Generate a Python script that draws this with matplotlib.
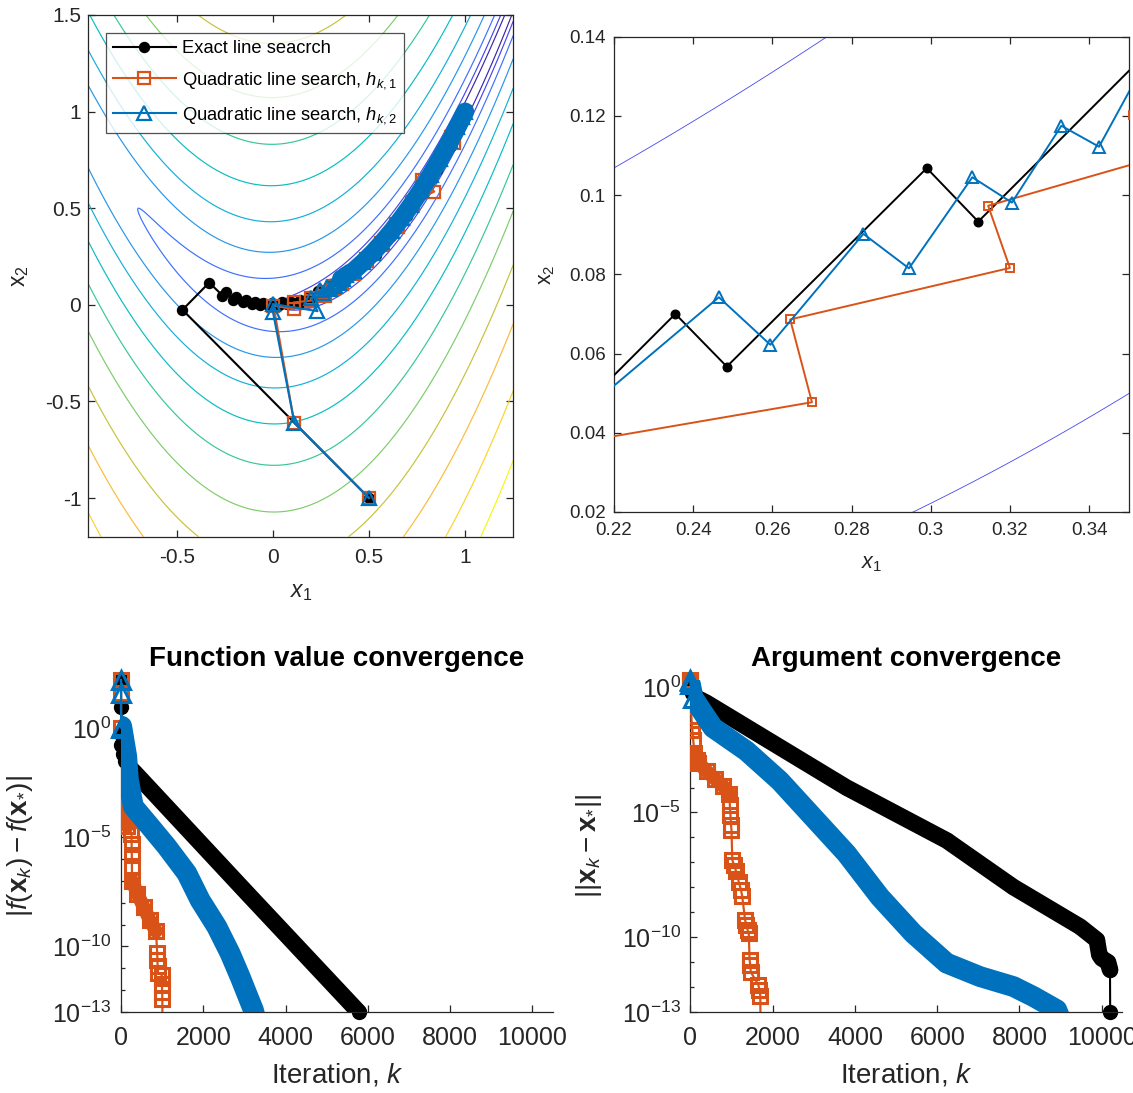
import numpy as np
import matplotlib
matplotlib.use("Agg")
import matplotlib.pyplot as plt
from matplotlib.ticker import FixedLocator, FixedFormatter, NullFormatter

plt.rcParams['font.family'] = ['Liberation Sans', 'DejaVu Sans']
plt.rcParams['mathtext.fontset'] = 'custom'
plt.rcParams['mathtext.rm'] = 'Liberation Sans'
plt.rcParams['mathtext.it'] = 'Liberation Sans:italic'
plt.rcParams['mathtext.bf'] = 'Liberation Sans:bold'
plt.rcParams['axes.unicode_minus'] = False

# ---------------- data ----------------
# contour levels of the objective (Rosenbrock) shown in the top panels
contour_levels = [0.25, 0.95, 2.9, 8.4, 19.5, 39, 70, 116, 184, 276, 403, 561]

# iterate paths (x1, x2)
exact_x1 = [0.5, -0.47, -0.331, -0.262, -0.245, -0.205, -0.19, -0.155, -0.14, -0.108, -0.095,
            -0.065, -0.052, -0.02, -0.005, 0.03, 0.045, 0.08, 0.095, 0.125, 0.14, 0.1525, 0.1875,
            0.2005, 0.2355, 0.2485, 0.299, 0.312, 0.367, 0.381, 0.44, 0.455, 0.52, 0.535, 0.60,
            0.615, 0.68, 0.695, 0.76, 0.775, 0.84, 0.855, 0.91, 0.925, 0.97, 0.985, 1.0]
exact_x2 = [-1.0, -0.026, 0.115, 0.048, 0.065, 0.027, 0.042, 0.012, 0.027, 0.002, 0.014,
            -0.003, 0.009, -0.004, 0.011, -0.002, 0.013, 0.003, 0.017, 0.01, 0.025, 0.013, 0.048,
            0.035, 0.070, 0.0567, 0.1068, 0.0933, 0.1483, 0.134, 0.20, 0.19, 0.275, 0.26, 0.37,
            0.355, 0.475, 0.46, 0.59, 0.575, 0.715, 0.70, 0.835, 0.82, 0.95, 0.955, 1.0]

quad1_x1 = [0.5, 0.112, 0.003, 0.112, 0.108, 0.200, 0.196, 0.270, 0.2645, 0.320, 0.3145, 0.357,
            0.3512, 0.42, 0.412, 0.49, 0.483, 0.57, 0.562, 0.65, 0.642, 0.73, 0.722, 0.839,
            0.778, 0.943, 0.926, 1.0]
quad1_x2 = [-1.0, -0.612, -0.004, -0.024, 0.012, 0.022, 0.035, 0.0477, 0.0686, 0.0816, 0.0973,
            0.1095, 0.1203, 0.158, 0.172, 0.225, 0.238, 0.31, 0.322, 0.405, 0.418, 0.515, 0.53,
            0.586, 0.647, 0.836, 0.871, 1.0]

quad2_x1 = [0.5, 0.112, 0.0, 0.0, 0.232, 0.20, 0.2465, 0.2595, 0.283, 0.2945, 0.3105, 0.3205,
            0.333, 0.3425, 0.3555, 0.365, 0.38, 0.42, 0.47, 0.52, 0.57, 0.62, 0.67, 0.72, 0.77,
            0.82, 0.87, 0.92, 0.96, 0.985, 1.0]
quad2_x2 = [-1.0, -0.612, -0.035, 0.004, -0.033, 0.035, 0.0742, 0.0622, 0.0902, 0.0815, 0.1045,
            0.0981, 0.1175, 0.1122, 0.136, 0.131, 0.152, 0.176, 0.221, 0.27, 0.325, 0.384, 0.449,
            0.518, 0.593, 0.672, 0.757, 0.846, 0.922, 0.97, 1.0]

# function-value convergence: iteration k and log10 |f(x_k) - f(x*)|
fv_exact_k = [0, 1, 2, 10, 40, 100, 200, 340, 3058, 5775]
fv_exact_log = [2.19, 0.93, -0.3, -0.8, -1.2, -1.5, -1.8, -2.06, -7.55, -13.0]
fv_q1_k = [0, 1, 2, 5, 10, 15, 25, 60, 120, 150, 255, 258, 262, 265, 270, 400, 550, 700, 850,
           880, 885, 890, 900, 990, 995, 1000, 1005, 1010]
fv_q1_log = [2.19, 1.6, 0.0, -0.5, -1.2, -2.4, -3.1, -4.0, -4.2, -4.5, -4.85, -5.3, -5.8, -6.3,
             -7.0, -7.6, -8.2, -8.8, -9.3, -10.3, -10.6, -10.9, -11.2, -11.3, -11.7, -12.1,
             -12.4, -16.0]
fv_q2_k = [0, 1, 2, 16, 138, 179, 300, 706, 1111, 1598, 1922, 2328, 2652, 2895, 3058, 3220, 3300]
fv_q2_log = [2.19, 1.6, 0.0, 0.07, -1.3, -2.37, -3.6, -4.51, -5.43, -6.65, -7.88, -9.1, -10.32,
             -11.39, -12.16, -12.92, -13.5]

# argument convergence: iteration k and log10 ||x_k - x*||
ar_exact_k = [0, 1, 2, 30, 150, 389, 3796, 6229, 7852, 9474, 9880, 9940, 10000, 10150, 10200, 10204]
ar_exact_log = [0.314, 0.254, 0.2, -0.2, -0.4, -0.6, -4.0, -6.12, -7.99, -9.58, -10.11, -10.7,
                -10.85, -11.0, -11.3, -13.0]
ar_q1_k = [0, 1, 2, 10, 30, 50, 70, 100, 150, 190, 400, 600, 800, 950, 960, 975, 990, 1000,
           1020, 1060, 1110, 1180, 1230, 1260, 1330, 1360, 1390, 1420, 1440, 1455, 1470, 1650,
           1680, 1700, 1720]
ar_q1_log = [0.314, 0.265, 0.15, -0.3, -1.3, -1.7, -2.1, -2.6, -2.9, -3.0, -3.35, -3.65, -3.95,
             -4.25, -4.7, -5.1, -5.5, -5.7, -6.9, -7.1, -7.35, -7.8, -8.1, -8.35, -9.3, -9.5,
             -9.7, -9.85, -10.9, -11.1, -11.4, -11.9, -12.1, -12.35, -16.0]
ar_q2_k = [0, 1, 2, 66, 552, 1363, 2174, 2985, 3796, 4607, 5418, 6229, 7040, 7852, 8338, 8906, 9000]
ar_q2_log = [0.314, 0.265, 0.15, -0.4, -1.6, -2.53, -3.73, -5.19, -6.65, -8.39, -9.85, -11.04,
             -11.58, -11.98, -12.38, -12.91, -13.3]

# ---------------- style ----------------
C_BLACK = 'black'
C_ORANGE = '#D95319'
C_BLUE = '#0072BD'
AX_COLOR = '#262626'

# parula-like colours, one per contour level (low -> high)
level_colors = [(0.24, 0.15, 0.66), (0.28, 0.28, 0.92), (0.24, 0.44, 1.00), (0.15, 0.59, 0.92),
                (0.07, 0.69, 0.84), (0.03, 0.74, 0.76), (0.22, 0.78, 0.59), (0.49, 0.80, 0.42),
                (0.78, 0.76, 0.23), (0.99, 0.73, 0.24), (0.98, 0.83, 0.17), (0.97, 0.97, 0.08)]


def rosen(X, Y):
    return (1 - X) ** 2 + 100 * (Y - X ** 2) ** 2


def style_axes(ax, fs, xpad, ypad, box=True):
    for s in ax.spines.values():
        s.set_color(AX_COLOR)
        s.set_linewidth(0.9)
    if not box:
        ax.spines['top'].set_visible(False)
        ax.spines['right'].set_visible(False)
    ax.tick_params(which='both', direction='in', colors=AX_COLOR, labelsize=fs,
                   top=box, right=box, width=0.9)
    ax.tick_params(which='major', length=5)
    ax.tick_params(axis='x', which='major', pad=xpad)
    ax.tick_params(axis='y', which='major', pad=ypad)


fig = plt.figure(figsize=(11.33, 10.93), dpi=100)

# ---------------- top-left: contours with paths ----------------
ax1 = fig.add_axes([0.0779, 0.509, 0.3751, 0.4773])
xg = np.linspace(-0.96, 1.25, 600)
yg = np.linspace(-1.2, 1.5, 600)
XG, YG = np.meshgrid(xg, yg)
ax1.contour(XG, YG, rosen(XG, YG), levels=contour_levels, colors=level_colors, linewidths=0.85)

ax1.plot(exact_x1, exact_x2, '-o', color=C_BLACK, lw=1.5, ms=7.2, mfc=C_BLACK, mec=C_BLACK,
         label='Exact line seacrch', zorder=3)
ax1.plot(quad1_x1, quad1_x2, '-s', color=C_ORANGE, lw=1.5, ms=8.4, mfc='none', mew=1.6,
         label=r'Quadratic line search, $h_{k,1}$', zorder=4)
ax1.plot(quad2_x1, quad2_x2, '-^', color=C_BLUE, lw=1.5, ms=9.6, mfc='none', mew=1.6,
         label=r'Quadratic line search, $h_{k,2}$', zorder=5)
band_start = 14
ax1.plot(quad2_x1[band_start:], quad2_x2[band_start:], '-', color=C_BLUE, lw=13,
         solid_capstyle='round', solid_joinstyle='round', zorder=5)
ax1.set_xlim(-0.96, 1.25)
ax1.set_ylim(-1.2, 1.5)
ax1.set_xticks([-0.5, 0, 0.5, 1])
ax1.set_xticklabels(['-0.5', '0', '0.5', '1'])
ax1.set_yticks([-1, -0.5, 0, 0.5, 1, 1.5])
ax1.set_yticklabels(['-1', '-0.5', '0', '0.5', '1', '1.5'])
style_axes(ax1, 15, 8.5, 5)
ax1.set_xlabel(r'$x_1$', fontsize=16.5, color=AX_COLOR)
ax1.set_ylabel(r'x$_2$', fontsize=16.5, color=AX_COLOR)
ax1.xaxis.set_label_coords(0.5, -0.083)
ax1.yaxis.set_label_coords(-0.135, 0.5)
leg = ax1.legend(loc='upper left', bbox_to_anchor=(0.0416, 0.9655), borderaxespad=0,
                 fontsize=13.2, frameon=True, fancybox=False, edgecolor=AX_COLOR,
                 handlelength=3.4, handletextpad=0.35, labelspacing=0.72, borderpad=0.4)
leg.get_frame().set_linewidth(0.9)
leg.set_zorder(10)

# ---------------- top-right: zoomed view ----------------
ax2 = fig.add_axes([0.5419, 0.5316, 0.4543, 0.4349])
xz = np.linspace(0.2, 0.37, 500)
yz = np.linspace(0.0, 0.16, 500)
XZ, YZ = np.meshgrid(xz, yz)
ax2.contour(XZ, YZ, rosen(XZ, YZ), levels=contour_levels, colors=level_colors, linewidths=0.6)
ax2.plot(exact_x1, exact_x2, '-o', color=C_BLACK, lw=1.4, ms=6.2, mfc=C_BLACK, mec=C_BLACK, zorder=3)
ax2.plot(quad1_x1, quad1_x2, '-s', color=C_ORANGE, lw=1.4, ms=6.0, mfc='none', mew=1.4, zorder=4)
ax2.plot(quad2_x1, quad2_x2, '-^', color=C_BLUE, lw=1.4, ms=8.5, mfc='none', mew=1.4, zorder=5)
ax2.set_xlim(0.22, 0.35)
ax2.set_ylim(0.02, 0.14)
ax2.set_xticks([0.22, 0.24, 0.26, 0.28, 0.30, 0.32, 0.34])
ax2.set_xticklabels(['0.22', '0.24', '0.26', '0.28', '0.3', '0.32', '0.34'])
ax2.set_yticks([0.02, 0.04, 0.06, 0.08, 0.10, 0.12, 0.14])
ax2.set_yticklabels(['0.02', '0.04', '0.06', '0.08', '0.1', '0.12', '0.14'])
style_axes(ax2, 13.5, 7, 6)
ax2.set_xlabel(r'$x_1$', fontsize=15.5, color=AX_COLOR)
ax2.set_ylabel(r'x$_2$', fontsize=15.5, color=AX_COLOR)
ax2.xaxis.set_label_coords(0.5, -0.086)
ax2.yaxis.set_label_coords(-0.111, 0.5)


# ---------------- bottom: convergence ----------------
def conv_axes(rect, series, title, ylabel, black_band_end, orange_dense):
    ax = fig.add_axes(rect)
    (ek, elog), (o_k, olog), (bk, blog) = series
    ev = 10.0 ** np.array(elog)
    ov = 10.0 ** np.array(olog)
    bv = 10.0 ** np.array(blog)
    # black: dense markers form a band, final drop is a plain line
    ax.plot(ek, ev, '-', color=C_BLACK, lw=1.5, zorder=2)
    ax.plot(ek[2:black_band_end], ev[2:black_band_end], '-', color=C_BLACK, lw=12,
            solid_capstyle='round', solid_joinstyle='round', zorder=2)
    ax.plot(ek, ev, 'o', color=C_BLACK, ms=10, zorder=2, clip_on=False)
    # orange: squares with thin connecting line, dense stretches form bands
    ax.plot(o_k[:3], ov[:3], 's', color=C_ORANGE, ms=9.5, mfc='none', mew=2.2, zorder=3,
            clip_on=False)
    ax.plot(o_k, ov, '-s', color=C_ORANGE, lw=1.6, ms=9.5, mfc='none', mew=2.2, zorder=3)
    for a, b in orange_dense:
        ax.plot(o_k[a:b], ov[a:b], '-', color=C_ORANGE, lw=10, solid_capstyle='round',
                solid_joinstyle='round', zorder=3)
    # blue: first iterates as single triangles, then dense triangles form a wide band
    ax.plot(bk[:4], bv[:4], '-^', color=C_BLUE, lw=1.6, ms=13, mfc='none', mew=2.2, zorder=5,
            clip_on=False)
    ax.plot(bk[2:], bv[2:], '-', color=C_BLUE, lw=15, solid_capstyle='round',
            solid_joinstyle='round', zorder=4)
    ax.set_yscale('log')
    top = max(ev.max(), ov.max(), bv.max())
    ax.set_ylim(1e-13, top)
    ax.set_xlim(0, 10500)
    ax.set_xticks([0, 2000, 4000, 6000, 8000, 10000])
    ax.yaxis.set_major_locator(FixedLocator([1e-13, 1e-10, 1e-5, 1e0]))
    ax.yaxis.set_major_formatter(FixedFormatter([r'$10^{-13}$', r'$10^{-10}$', r'$10^{-5}$', r'$10^{0}$']))
    ax.yaxis.set_minor_locator(FixedLocator([10.0 ** e for e in range(-12, 3)]))
    ax.yaxis.set_minor_formatter(NullFormatter())
    style_axes(ax, 18, 10, 7, box=False)
    ax.tick_params(which='minor', length=3, direction='in', width=0.9, colors=AX_COLOR)
    ax.set_title(title, fontsize=20, fontweight='bold', pad=10)
    ax.set_xlabel(r'Iteration, $k$', fontsize=20, color=AX_COLOR)
    ax.set_ylabel(ylabel, fontsize=20, color=AX_COLOR)
    ax.xaxis.set_label_coords(0.5, -0.148)
    ax.yaxis.set_label_coords(-0.2, 0.5)
    return ax


conv_axes([0.1068, 0.0741, 0.3813, 0.3038],
          [(fv_exact_k, fv_exact_log), (fv_q1_k, fv_q1_log), (fv_q2_k, fv_q2_log)],
          'Function value convergence', r'$|f(\mathbf{x}_k) - f(\mathbf{x}_{*})|$',
          len(fv_exact_k), [(6, 10), (14, 19)])
conv_axes([0.6093, 0.0741, 0.3813, 0.3038],
          [(ar_exact_k, ar_exact_log), (ar_q1_k, ar_q1_log), (ar_q2_k, ar_q2_log)],
          'Argument convergence', r'$||\mathbf{x}_k - \mathbf{x}_{*}||$',
          len(ar_exact_k) - 1, [(7, 14)])

fig.savefig('out.png', dpi=100)
